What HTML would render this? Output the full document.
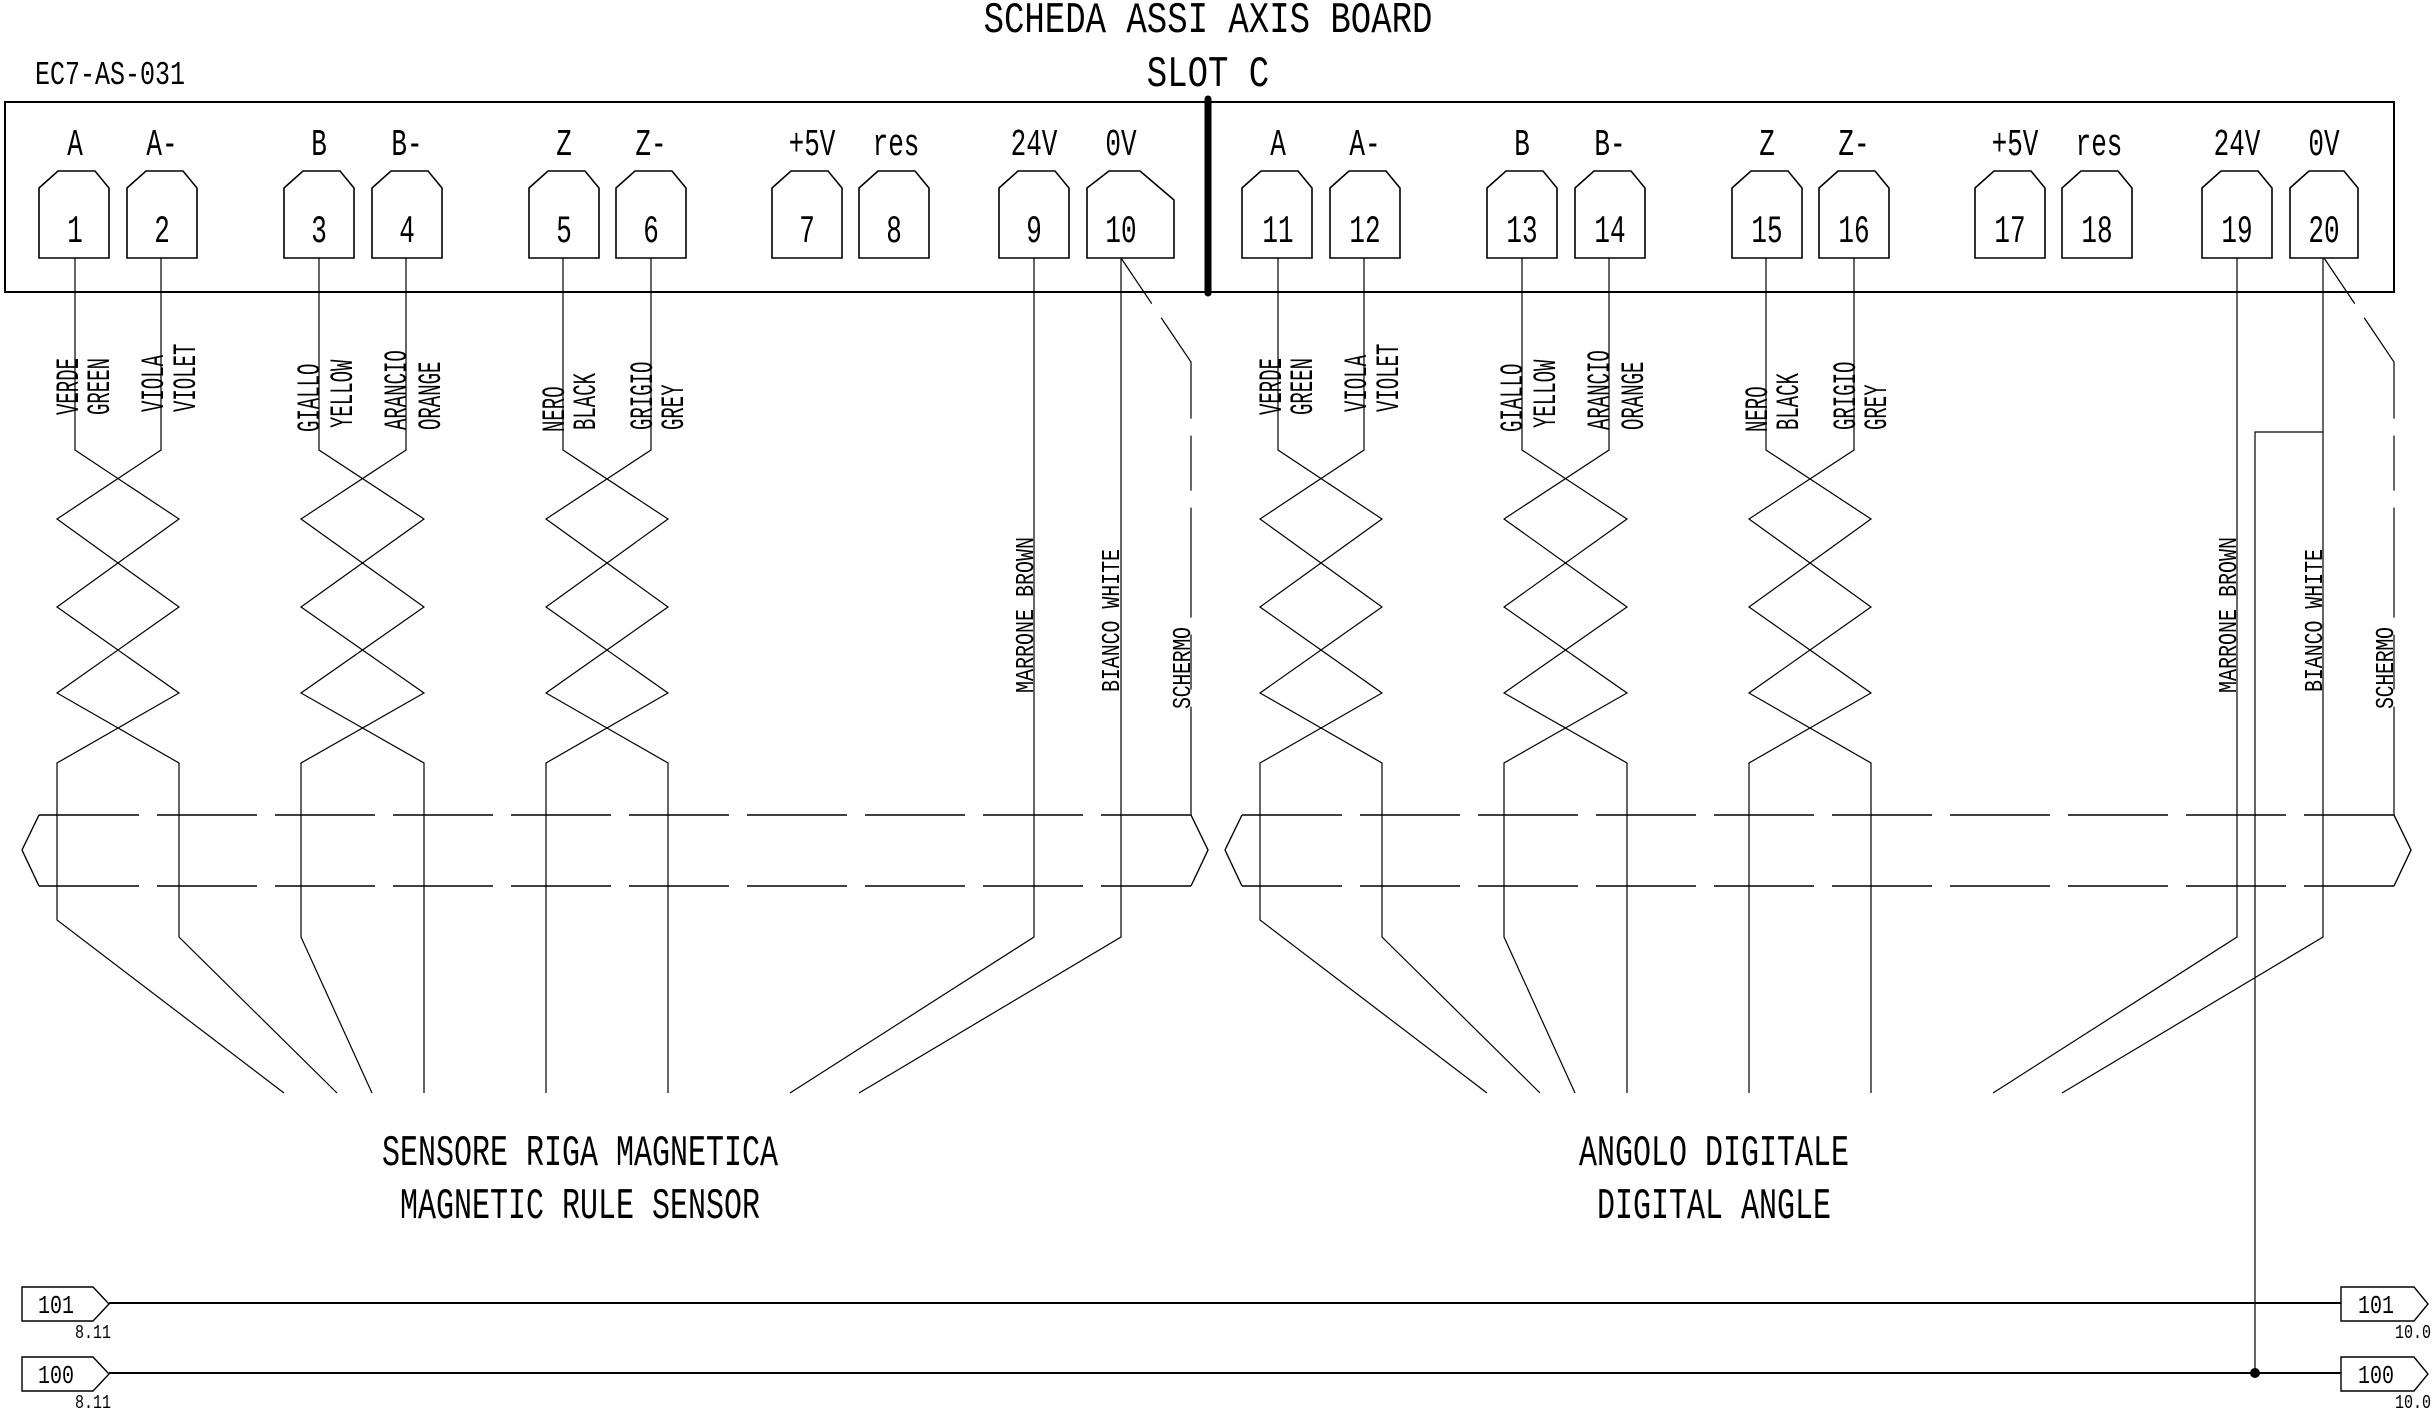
<!DOCTYPE html>
<html><head><meta charset="utf-8"><style>
html,body{margin:0;padding:0;background:#fff;}
svg{display:block;}
text{font-family:"Liberation Mono",monospace;fill:#000;}
</style></head><body>
<svg width="2436" height="1415" viewBox="0 0 2436 1415" xmlns="http://www.w3.org/2000/svg">
<g fill="none" stroke="#000">
<rect x="5" y="102" width="2389" height="190" stroke-width="2"/>
<line x1="1208" y1="99" x2="1208" y2="293" stroke-width="7" stroke-linecap="round"/>
</g>
<!-- titles -->
<text transform="translate(1208,32) scale(1,1.28)" font-size="34" text-anchor="middle">SCHEDA ASSI AXIS BOARD</text>
<text transform="translate(1208,86) scale(1,1.28)" font-size="34" text-anchor="middle">SLOT C</text>
<text transform="translate(35,84) scale(1,1.35)" font-size="25">EC7-AS-031</text>

<g id="L">
<!-- terminals -->
<g fill="none" stroke="#000" stroke-width="1.6">
<polygon points="39,188 58,171 95,171 109,188 109,258 39,258"/>
<polygon points="127,188 146,171 183,171 197,188 197,258 127,258"/>
<polygon points="284,188 303,171 340,171 354,188 354,258 284,258"/>
<polygon points="372,188 391,171 428,171 442,188 442,258 372,258"/>
<polygon points="529,188 548,171 585,171 599,188 599,258 529,258"/>
<polygon points="616,188 635,171 672,171 686,188 686,258 616,258"/>
<polygon points="772,188 791,171 828,171 842,188 842,258 772,258"/>
<polygon points="859,188 878,171 915,171 929,188 929,258 859,258"/>
<polygon points="999,188 1018,171 1055,171 1069,188 1069,258 999,258"/>
</g>
<g font-size="26" text-anchor="middle">
<text transform="translate(75,155) scale(1,1.45)">A</text>
<text transform="translate(162,155) scale(1,1.45)">A-</text>
<text transform="translate(319,155) scale(1,1.45)">B</text>
<text transform="translate(407,155) scale(1,1.45)">B-</text>
<text transform="translate(564,155) scale(1,1.45)">Z</text>
<text transform="translate(651,155) scale(1,1.45)">Z-</text>
<text transform="translate(812,155) scale(1,1.45)">+5V</text>
<text transform="translate(896,155) scale(1,1.45)">res</text>
<text transform="translate(1034,155) scale(1,1.45)">24V</text>
<text transform="translate(75,242) scale(1,1.5)">1</text>
<text transform="translate(162,242) scale(1,1.5)">2</text>
<text transform="translate(319,242) scale(1,1.5)">3</text>
<text transform="translate(407,242) scale(1,1.5)">4</text>
<text transform="translate(564,242) scale(1,1.5)">5</text>
<text transform="translate(651,242) scale(1,1.5)">6</text>
<text transform="translate(807,242) scale(1,1.5)">7</text>
<text transform="translate(894,242) scale(1,1.5)">8</text>
<text transform="translate(1034,242) scale(1,1.5)">9</text>
</g>
<!-- twisted pairs -->
<g fill="none" stroke="#000" stroke-width="1.2">
<polyline points="75,258 75,450 179,519 57,607 179,693 57,763 57,920 284,1093"/>
<polyline points="161,258 161,450 57,519 179,607 57,693 179,763 179,937 337,1093"/>
<polyline points="319,258 319,450 424,519 301,607 424,693 301,763 301,937 372,1093"/>
<polyline points="406,258 406,450 301,519 424,607 301,693 424,763 424,1093"/>
<polyline points="563,258 563,450 668,519 546,607 668,693 546,763 546,1093"/>
<polyline points="651,258 651,450 546,519 668,607 546,693 668,763 668,1093"/>
<polyline points="1034,258 1034,937 790,1093"/>
</g>
<g font-size="19">
<text transform="translate(78,415) rotate(-90) scale(1,1.7)">VERDE</text>
<text transform="translate(109,415) rotate(-90) scale(1,1.7)">GREEN</text>
<text transform="translate(163,412) rotate(-90) scale(1,1.7)">VIOLA</text>
<text transform="translate(195,412) rotate(-90) scale(1,1.7)">VIOLET</text>
<text transform="translate(319,432) rotate(-90) scale(1,1.7)">GIALLO</text>
<text transform="translate(352,428) rotate(-90) scale(1,1.7)">YELLOW</text>
<text transform="translate(406,430) rotate(-90) scale(1,1.7)">ARANCIO</text>
<text transform="translate(440,430) rotate(-90) scale(1,1.7)">ORANGE</text>
<text transform="translate(564,432) rotate(-90) scale(1,1.7)">NERO</text>
<text transform="translate(595,430) rotate(-90) scale(1,1.7)">BLACK</text>
<text transform="translate(652,430) rotate(-90) scale(1,1.7)">GRIGIO</text>
<text transform="translate(683,430) rotate(-90) scale(1,1.7)">GREY</text>
</g>
<g font-size="20">
<text transform="translate(1033,693) rotate(-90) scale(1,1.3)" textLength="156">MARRONE BROWN</text>
<text transform="translate(1119,692) rotate(-90) scale(1,1.3)" textLength="143">BIANCO WHITE</text>
<text transform="translate(1190,709) rotate(-90) scale(1,1.3)" textLength="82">SCHERMO</text>
</g>
<!-- shield bundle -->
<g fill="none" stroke="#000" stroke-width="1.4">
<polyline points="22,850 39,815" /><polyline points="22,850 39,886"/>
<polyline points="1191,815 1208,850 1191,886"/>
<line x1="39" y1="815" x2="1191" y2="815" stroke-dasharray="100 18"/>
<line x1="39" y1="886" x2="1191" y2="886" stroke-dasharray="100 18"/>
<polyline points="1121,258 1191,362 1191,815" stroke-width="1.2" stroke-dasharray="55 17 110 17"/>
</g>
</g>

<!-- right group: mostly copy of left shifted by 1203 -->
<use href="#L" transform="translate(1203,0)"/>

<!-- terminal 10 and 20 (different shapes) -->
<g fill="none" stroke="#000" stroke-width="1.6">
<polygon points="1087,188 1109,171 1140,171 1174,200 1174,258 1087,258"/>
<polygon points="2290,188 2309,171 2344,171 2358,188 2358,258 2290,258"/>
</g>
<g font-size="26" text-anchor="middle">
<text transform="translate(1121,155) scale(1,1.45)">0V</text>
<text transform="translate(1121,242) scale(1,1.5)">10</text>
<text transform="translate(2324,155) scale(1,1.45)">0V</text>
<text transform="translate(2324,242) scale(1,1.5)">20</text>
</g>
<!-- overlay corrections for right-side numbers: white out copied numbers then write new -->
<g fill="#fff">
<rect x="1252" y="205" width="50" height="45"/><rect x="1340" y="205" width="50" height="45"/>
<rect x="1496" y="205" width="50" height="45"/><rect x="1584" y="205" width="50" height="45"/>
<rect x="1742" y="205" width="50" height="45"/><rect x="1829" y="205" width="50" height="45"/>
<rect x="1985" y="205" width="50" height="45"/><rect x="2072" y="205" width="50" height="45"/>
<rect x="2212" y="205" width="50" height="45"/>
</g>
<g font-size="26" text-anchor="middle">
<text transform="translate(1278,242) scale(1,1.5)">11</text>
<text transform="translate(1365,242) scale(1,1.5)">12</text>
<text transform="translate(1522,242) scale(1,1.5)">13</text>
<text transform="translate(1610,242) scale(1,1.5)">14</text>
<text transform="translate(1767,242) scale(1,1.5)">15</text>
<text transform="translate(1854,242) scale(1,1.5)">16</text>
<text transform="translate(2010,242) scale(1,1.5)">17</text>
<text transform="translate(2097,242) scale(1,1.5)">18</text>
<text transform="translate(2237,242) scale(1,1.5)">19</text>
</g>
<g fill="none" stroke="#000" stroke-width="1.2">
<polyline points="1121,258 1121,937 859,1093"/>
<polyline points="2323,258 2323,937 2062,1093"/>
<polyline points="2323,432 2255,432 2255,1373"/>
</g>
<circle cx="2255" cy="1373" r="5" fill="#000"/>

<!-- bottom captions -->
<g font-size="30" text-anchor="middle">
<text transform="translate(580,1165) scale(1,1.45)">SENSORE RIGA MAGNETICA</text>
<text transform="translate(580,1218) scale(1,1.45)">MAGNETIC RULE SENSOR</text>
<text transform="translate(1714,1165) scale(1,1.45)">ANGOLO DIGITALE</text>
<text transform="translate(1714,1218) scale(1,1.45)">DIGITAL ANGLE</text>
</g>

<!-- bus lines -->
<g fill="none" stroke="#000">
<line x1="109" y1="1303" x2="2341" y2="1303" stroke-width="2"/>
<line x1="109" y1="1373" x2="2341" y2="1373" stroke-width="2"/>
<g stroke-width="1.4">
<polygon points="22,1287 93,1287 109,1304 93,1321 22,1321"/>
<polygon points="22,1357 93,1357 109,1374 93,1391 22,1391"/>
<polygon points="2341,1287 2414,1287 2428,1304 2414,1321 2341,1321"/>
<polygon points="2341,1357 2414,1357 2428,1374 2414,1391 2341,1391"/>
</g>
</g>
<g font-size="20">
<text transform="translate(38,1313) scale(1,1.3)">101</text>
<text transform="translate(38,1383) scale(1,1.3)">100</text>
<text transform="translate(2358,1313) scale(1,1.3)">101</text>
<text transform="translate(2358,1383) scale(1,1.3)">100</text>
</g>
<g font-size="15">
<text transform="translate(75,1338) scale(1,1.3)">8.11</text>
<text transform="translate(75,1408) scale(1,1.3)">8.11</text>
<text transform="translate(2395,1338) scale(1,1.3)">10.0</text>
<text transform="translate(2395,1408) scale(1,1.3)">10.0</text>
</g>
</svg>
</body></html>
